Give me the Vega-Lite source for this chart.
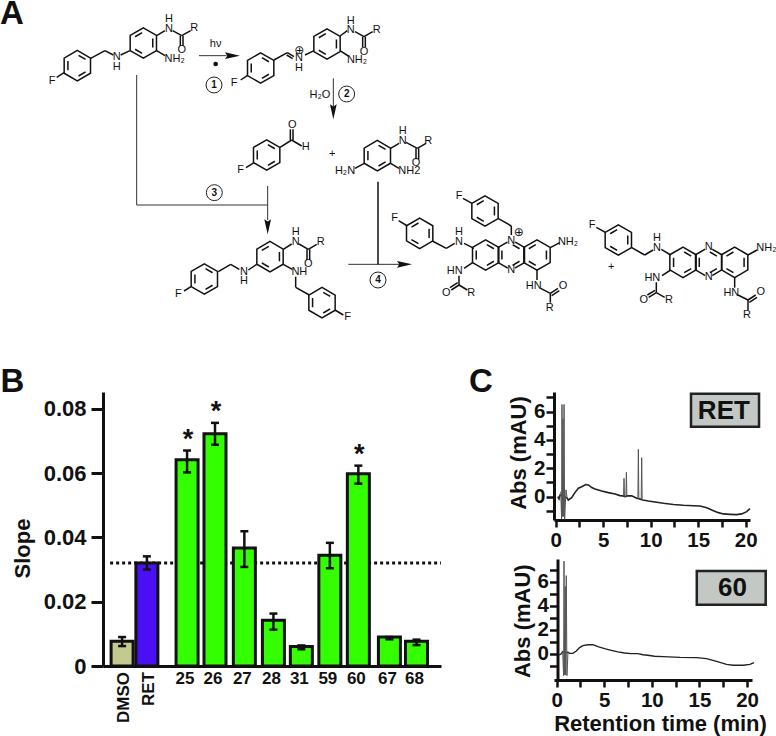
{
"$schema":"https://vega.github.io/schema/vega-lite/v6.json",
"autosize":{"type":"none"},
"padding":{"left":103,"top":0,"right":673,"bottom":736},
"background":"white",
"config":{"view":{"stroke":null},"text":{"font":"Liberation Sans"},"axis":{"labelFont":"Liberation Sans","titleFont":"Liberation Sans","labelFontWeight":"bold","titleFontWeight":"bold","labelColor":"#111","titleColor":"#111","domainColor":"#111","tickColor":"#111","grid":false,"labelOverlap":false,"labelFlush":false,"labelBound":false,"zindex":1}},
"bounds":"flush",
"spacing":52,
"vconcat":[
{"width":673,"height":340,
"encoding":{"x":{"field":"x","type":"quantitative","axis":null,"scale":{"domain":[309,2328],"nice":false,"zero":false,"padding":0}},"y":{"field":"y","type":"quantitative","axis":null,"scale":{"domain":[0,1020],"nice":false,"zero":false,"reverse":true}}},
"layer":[
{"data":{"name":"reactionLines","values":[{"x":597,"y":167,"x2":680,"y2":167},{"x":1000,"y":235,"x2":1000,"y2":320},{"x":410,"y":225,"x2":410,"y2":615},{"x":410,"y":615,"x2":803,"y2":615},{"x":803,"y":558,"x2":803,"y2":660},{"x":1045,"y":793,"x2":1200,"y2":793}]},
"mark":{"type":"rule","stroke":"#333","strokeWidth":1},"encoding":{"x2":{"field":"x2"},"y2":{"field":"y2"}}},
{"data":{"name":"bonds","values":[
{"x":1134,"y":545,"x2":1134,"y2":793},
{"x":272,"y":175,"x2":315,"y2":152},{"x":315,"y":152,"x2":340,"y2":165},{"x":362,"y":165,"x2":390,"y2":152},{"x":470,"y":107,"x2":495,"y2":92},{"x":518,"y":92,"x2":545,"y2":107},{"x":545,"y":107,"x2":572,"y2":92},{"x":541,"y":107,"x2":541,"y2":138},{"x":549,"y":107,"x2":549,"y2":138},{"x":470,"y":152,"x2":495,"y2":167},{"x":192,"y":218,"x2":170,"y2":232},
{"x":822,"y":180,"x2":862,"y2":158},{"x":862,"y":158,"x2":882,"y2":170},{"x":860,"y":165,"x2":878,"y2":176},{"x":915,"y":165,"x2":942,"y2":152},{"x":1020,"y":108,"x2":1042,"y2":92},{"x":1065,"y":95,"x2":1092,"y2":110},{"x":1092,"y":110,"x2":1118,"y2":95},{"x":1088,"y":110,"x2":1088,"y2":142},{"x":1096,"y":110,"x2":1096,"y2":142},{"x":1020,"y":152,"x2":1045,"y2":168},{"x":743,"y":226,"x2":722,"y2":240},
{"x":840,"y":442,"x2":875,"y2":420},{"x":871,"y":420,"x2":871,"y2":388},{"x":879,"y":420,"x2":879,"y2":388},{"x":875,"y":420,"x2":905,"y2":438},{"x":762,"y":488,"x2":738,"y2":503},
{"x":1093,"y":490,"x2":1065,"y2":505},{"x":1172,"y":445,"x2":1197,"y2":430},{"x":1218,"y":427,"x2":1252,"y2":445},{"x":1252,"y":445,"x2":1278,"y2":430},{"x":1248,"y":445,"x2":1248,"y2":478},{"x":1256,"y":445,"x2":1256,"y2":478},{"x":1172,"y":490,"x2":1197,"y2":505},
{"x":655,"y":815,"x2":692,"y2":793},{"x":692,"y":793,"x2":718,"y2":808},{"x":745,"y":810,"x2":770,"y2":793},{"x":850,"y":748,"x2":875,"y2":732},{"x":897,"y":732,"x2":925,"y2":748},{"x":925,"y":748,"x2":950,"y2":733},{"x":921,"y":748,"x2":921,"y2":780},{"x":929,"y":748,"x2":929,"y2":780},{"x":850,"y":793,"x2":877,"y2":808},{"x":887,"y":830,"x2":887,"y2":862},{"x":887,"y":862,"x2":928,"y2":885},{"x":1005,"y":930,"x2":1030,"y2":945},{"x":573,"y":860,"x2":552,"y2":873},
{"x":1416,"y":610,"x2":1389,"y2":595},{"x":1494,"y":655,"x2":1534,"y2":678},{"x":1534,"y":678,"x2":1534,"y2":705},{"x":1222,"y":678,"x2":1196,"y2":662},{"x":1297,"y":723,"x2":1339,"y2":745},{"x":1339,"y":745,"x2":1364,"y2":730},{"x":1392,"y":730,"x2":1422,"y2":745},{"x":1651,"y":743,"x2":1679,"y2":728},{"x":1419,"y":787,"x2":1392,"y2":805},{"x":1377,"y":827,"x2":1377,"y2":855},{"x":1377,"y":855,"x2":1354,"y2":870},{"x":1373,"y":848,"x2":1350,"y2":863},{"x":1377,"y":855,"x2":1402,"y2":870},{"x":1611,"y":810,"x2":1611,"y2":840},{"x":1622,"y":865,"x2":1651,"y2":880},{"x":1651,"y":880,"x2":1674,"y2":865},{"x":1655,"y":887,"x2":1678,"y2":872},{"x":1651,"y":880,"x2":1651,"y2":908},
{"x":1816,"y":697,"x2":1789,"y2":682},{"x":1894,"y":742,"x2":1934,"y2":765},{"x":1934,"y":765,"x2":1959,"y2":750},{"x":1984,"y":748,"x2":2012,"y2":765},{"x":2244,"y":765,"x2":2271,"y2":750},{"x":2012,"y":810,"x2":1986,"y2":827},{"x":1969,"y":847,"x2":1969,"y2":878},{"x":1969,"y":878,"x2":1946,"y2":892},{"x":1965,"y":871,"x2":1942,"y2":885},{"x":1969,"y":878,"x2":1994,"y2":892},{"x":2204,"y":832,"x2":2204,"y2":863},{"x":2214,"y":885,"x2":2244,"y2":900},{"x":2244,"y":900,"x2":2267,"y2":885},{"x":2248,"y":907,"x2":2271,"y2":892},{"x":2244,"y":900,"x2":2244,"y2":930}
]},"mark":{"type":"rule","stroke":"#111","strokeWidth":1.5},"encoding":{"x2":{"field":"x2"},"y2":{"field":"y2"}}},
{"data":{"name":"ringsA","values":[{"x":232,"y":197},{"x":782,"y":204},{"x":800,"y":465},{"x":1132,"y":467},{"x":613,"y":837},{"x":966,"y":908},{"x":1457,"y":765},{"x":1534,"y":765},{"x":2049,"y":787},{"x":2126,"y":787}]},
"mark":{"type":"point","shape":"M0,-1L0.866,-0.5L0.866,0.5L0,1L-0.866,0.5L-0.866,-0.5Z M-0.62,-0.3L-0.62,0.3 M0.08,-0.68L0.54,-0.41 M0.54,0.41L0.08,0.68","filled":false,"size":924,"stroke":"#111","strokeWidth":1.5,"opacity":1}},
{"data":{"name":"ringsB","values":[{"x":430,"y":129},{"x":981,"y":132},{"x":810,"y":770},{"x":1455,"y":633},{"x":1259,"y":700},{"x":1611,"y":765},{"x":1855,"y":720},{"x":2204,"y":787}]},
"mark":{"type":"point","shape":"M0,-1L0.866,-0.5L0.866,0.5L0,1L-0.866,0.5L-0.866,-0.5Z M0.62,-0.3L0.62,0.3 M-0.08,-0.68L-0.54,-0.41 M-0.54,0.41L-0.08,0.68","filled":false,"size":924,"stroke":"#111","strokeWidth":1.5,"opacity":1}},
{"data":{"name":"ringNitrogens","values":[{"x":2126,"y":742},{"x":2126,"y":832},{"x":1534,"y":722},{"x":1534,"y":810}]},
"mark":{"type":"point","shape":"circle","filled":true,"fill":"white","size":70,"opacity":1}},
{"data":{"name":"headsRight","values":[{"x":720,"y":167},{"x":1236,"y":793}]},
"mark":{"type":"point","shape":"M0,0L-2,-0.45L-1.7,0L-2,0.45Z","filled":true,"size":225,"fill":"#111","stroke":null,"opacity":1}},
{"data":{"name":"headsDown","values":[{"x":1000,"y":358},{"x":803,"y":703}]},
"mark":{"type":"point","shape":"M0,0L-0.45,-2L0,-1.7L0.45,-2Z","filled":true,"size":225,"fill":"#111","stroke":null,"opacity":1}},
{"data":{"name":"steps","values":[{"x":642,"y":255,"n":"1"},{"x":1040,"y":282,"n":"2"},{"x":643,"y":578,"n":"3"},{"x":1134,"y":840,"n":"4"}]},
"layer":[
{"mark":{"type":"point","shape":"circle","filled":true,"fill":"white","size":254,"stroke":"#222","strokeWidth":1,"opacity":1}},
{"mark":{"type":"text","fontSize":10,"fontWeight":"bold","fill":"#111"},"encoding":{"text":{"field":"n"}}}
]},
{"data":{"name":"radicalDot","values":[{"x":647,"y":192}]},"mark":{"type":"point","shape":"circle","filled":true,"fill":"#111","size":22,"opacity":1}},
{"data":{"name":"atomLabels","values":[
{"x":507,"y":57,"t":"H"},{"x":507,"y":87,"t":"N"},{"x":583,"y":85,"t":"R"},{"x":545,"y":150,"t":"O"},{"x":524,"y":178,"t":"NH₂"},{"x":350,"y":172,"t":"N"},{"x":350,"y":200,"t":"H"},{"x":156,"y":243,"t":"F"},
{"x":647,"y":132,"t":"hν"},
{"x":702,"y":248,"t":"F"},{"x":897,"y":175,"t":"N"},{"x":897,"y":205,"t":"H"},{"x":1052,"y":62,"t":"H"},{"x":1052,"y":90,"t":"N"},{"x":1130,"y":90,"t":"R"},{"x":1092,"y":157,"t":"O"},{"x":1071,"y":180,"t":"NH₂"},{"x":960,"y":284,"t":"H₂O"},
{"x":877,"y":375,"t":"O"},{"x":917,"y":442,"t":"H"},{"x":722,"y":510,"t":"F"},{"x":997,"y":462,"t":"+"},
{"x":1035,"y":513,"t":"H₂N"},{"x":1208,"y":393,"t":"H"},{"x":1208,"y":422,"t":"N"},{"x":1285,"y":422,"t":"R"},{"x":1248,"y":490,"t":"O"},{"x":1228,"y":513,"t":"NH2"},
{"x":887,"y":697,"t":"H"},{"x":887,"y":727,"t":"N"},{"x":962,"y":725,"t":"R"},{"x":925,"y":793,"t":"O"},{"x":732,"y":843,"t":"H"},{"x":732,"y":815,"t":"N"},{"x":898,"y":815,"t":"NH"},{"x":535,"y":882,"t":"F"},{"x":1043,"y":950,"t":"F"},
{"x":1377,"y":588,"t":"F"},{"x":1184,"y":655,"t":"F"},{"x":1377,"y":695,"t":"H"},{"x":1377,"y":725,"t":"N"},{"x":1534,"y":722,"t":"N"},{"x":1704,"y":725,"t":"NH₂"},{"x":1534,"y":810,"t":"N"},{"x":1364,"y":813,"t":"HN"},{"x":1339,"y":880,"t":"O"},{"x":1414,"y":880,"t":"R"},{"x":1601,"y":858,"t":"HN"},{"x":1689,"y":858,"t":"O"},{"x":1649,"y":925,"t":"R"},
{"x":1834,"y":800,"t":"+"},{"x":1776,"y":675,"t":"F"},{"x":1971,"y":715,"t":"H"},{"x":1971,"y":743,"t":"N"},{"x":2126,"y":742,"t":"N"},{"x":2126,"y":832,"t":"N"},{"x":2299,"y":743,"t":"NH₂"},{"x":1957,"y":833,"t":"HN"},{"x":1931,"y":900,"t":"O"},{"x":2007,"y":900,"t":"R"},{"x":2194,"y":878,"t":"HN"},{"x":2282,"y":877,"t":"O"},{"x":2241,"y":945,"t":"R"}
]},
"mark":{"type":"text","fontSize":11,"fill":"#111"},"encoding":{"text":{"field":"t"}}},
{"data":{"name":"charges","values":[{"x":898,"y":150},{"x":1556,"y":697}]},"mark":{"type":"text","text":"⊕","font":"DejaVu Sans","fontSize":12,"fill":"#111"}},
{"data":{"name":"panelLetters","values":[{"x":36,"y":72,"t":"A"},{"x":37,"y":1176,"t":"B"},{"x":1443,"y":1176,"t":"C"}]},
"mark":{"type":"text","fontSize":33,"fontWeight":"bold","fill":"#111","baseline":"alphabetic"},"encoding":{"text":{"field":"t"}}}
]},
{"bounds":"flush","spacing":113,"hconcat":[
{"width":338,"height":274,
"data":{"name":"slopes","values":[
{"name":"DMSO","group":"control","slot":0.67,"slope":0.0077,"lo":0.0062,"hi":0.009},
{"name":"RET","group":"reference","slot":1.54,"slope":0.032,"lo":0.03,"hi":0.0341},
{"name":"25","group":"compound","slot":2.95,"slope":0.0641,"lo":0.0602,"hi":0.067,"star":"*"},
{"name":"26","group":"compound","slot":3.93,"slope":0.0722,"lo":0.0688,"hi":0.0756,"star":"*"},
{"name":"27","group":"compound","slot":4.96,"slope":0.0367,"lo":0.0308,"hi":0.0419},
{"name":"28","group":"compound","slot":5.98,"slope":0.0142,"lo":0.0113,"hi":0.0163},
{"name":"31","group":"compound","slot":6.96,"slope":0.0061,"lo":0.0052,"hi":0.0064},
{"name":"59","group":"compound","slot":7.96,"slope":0.0344,"lo":0.0304,"hi":0.0383},
{"name":"60","group":"compound","slot":8.96,"slope":0.0598,"lo":0.0567,"hi":0.0623,"star":"*"},
{"name":"67","group":"compound","slot":10.05,"slope":0.009,"lo":0.0083,"hi":0.009},
{"name":"68","group":"compound","slot":11.0,"slope":0.0077,"lo":0.0065,"hi":0.0082}
]},
"encoding":{"x":{"field":"slot","type":"quantitative","scale":{"domain":[0,11.86],"nice":false,"zero":false,"padding":0},"axis":{"title":null,"labels":false,"ticks":false,"domainWidth":3}}},
"layer":[
{"data":{"values":[{"level":0.032,"from":0.25,"to":11.86}]},"mark":{"type":"rule","strokeDash":[3,3],"strokeWidth":3,"color":"#111"},"encoding":{"x":{"field":"from","type":"quantitative"},"x2":{"field":"to"},"y":{"field":"level","type":"quantitative"}}},
{"mark":{"type":"bar","orient":"vertical","size":22,"stroke":"#111","strokeWidth":3},
"encoding":{"y":{"field":"slope","type":"quantitative","stack":null,"scale":{"domain":[0,0.0852],"nice":false,"zero":false},"axis":{"title":"Slope","values":[0,0.01,0.02,0.03,0.04,0.05,0.06,0.07,0.08],"labelExpr":"round(datum.value*100)%2==0 ? (datum.value==0 ? '0' : format(datum.value,'.2f')) : ''","labelFontSize":22,"titleFontSize":22,"tickSize":12,"tickWidth":3,"domainWidth":3,"labelPadding":5,"titleBaseline":"alphabetic","titleX":-74,"titleY":156,"titleAnchor":"middle"}},
"fill":{"field":"group","type":"nominal","legend":null,"scale":{"domain":["control","reference","compound"],"range":["#c4c98f","#4a10f5","#33ff00"]}}}},
{"mark":{"type":"rule","strokeWidth":2.5,"color":"#111"},"encoding":{"y":{"field":"lo","type":"quantitative"},"y2":{"field":"hi"}}},
{"mark":{"type":"tick","orient":"horizontal","size":8,"thickness":2.5,"color":"#111","opacity":1},"encoding":{"y":{"field":"lo","type":"quantitative"}}},
{"mark":{"type":"tick","orient":"horizontal","size":8,"thickness":2.5,"color":"#111","opacity":1},"encoding":{"y":{"field":"hi","type":"quantitative"}}},
{"transform":[{"filter":"datum.star"}],"mark":{"type":"text","fontSize":27,"fontWeight":"bold","fill":"#111","baseline":"alphabetic","dy":-3,"dx":1},"encoding":{"y":{"field":"hi","type":"quantitative"},"text":{"field":"star"}}},
{"transform":[{"filter":"datum.group=='compound'"}],"mark":{"type":"text","fontSize":17,"fontWeight":"bold","fill":"#111","baseline":"alphabetic","dy":18,"dx":-2},"encoding":{"y":{"datum":0},"text":{"field":"name"}}},
{"transform":[{"filter":"datum.group!='compound'"}],"mark":{"type":"text","fontSize":17,"fontWeight":"bold","fill":"#111","angle":270,"align":"right","baseline":"middle","dy":2,"dx":-6},"encoding":{"y":{"datum":0},"text":{"field":"name"}}}
]},
{"bounds":"flush","spacing":39,"vconcat":[
{"width":196,"height":128,
"encoding":{"x":{"field":"t","type":"quantitative","scale":{"domain":[-0.18,20.45],"nice":false,"zero":false,"padding":0},"axis":{"title":null,"values":[0,2.5,5,7.5,10,12.5,15,17.5,20],"labelExpr":"datum.value%5==0 ? format(datum.value,'d') : ''","labelFontSize":20.5,"tickSize":7,"tickWidth":2.5,"domainWidth":3,"labelPadding":3}},
"y":{"field":"abs","type":"quantitative","scale":{"domain":[-1.65,7.38],"nice":false,"zero":false},"axis":{"title":"Abs (mAU)","values":[-1,0,1,2,3,4,5,6,7],"labelExpr":"datum.value>=0 && datum.value%2==0 ? format(datum.value,'d') : ''","labelFontSize":20.5,"titleFontSize":22,"tickSize":8,"tickWidth":2.5,"domainWidth":3,"labelPadding":1,"titleBaseline":"alphabetic","titleX":-29,"titleY":60.5,"titleAnchor":"middle"}}},
"layer":[
{"data":{"name":"traceRET","values":[
{"t":0.21,"abs":0},{"t":0.35,"abs":-0.16},{"t":0.46,"abs":0.12},{"t":0.6,"abs":0.1},{"t":0.9,"abs":0},{"t":1.2,"abs":-0.1},{"t":1.33,"abs":-0.24},{"t":1.68,"abs":-0.07},{"t":2.04,"abs":0.3},{"t":2.39,"abs":0.59},{"t":2.74,"abs":0.7},{"t":3.16,"abs":0.85},{"t":3.44,"abs":0.82},{"t":3.79,"abs":0.64},{"t":4.14,"abs":0.54},{"t":4.84,"abs":0.4},{"t":5.54,"abs":0.28},{"t":6.25,"abs":0.19},{"t":6.77,"abs":0.07},{"t":7.09,"abs":0.05},{"t":7.3,"abs":0},{"t":7.54,"abs":0.05},{"t":8,"abs":0.05},{"t":8.53,"abs":-0.12},{"t":8.84,"abs":-0.16},{"t":9.16,"abs":-0.24},{"t":9.75,"abs":-0.31},{"t":10.63,"abs":-0.4},{"t":11.33,"abs":-0.47},{"t":12.39,"abs":-0.56},{"t":13.44,"abs":-0.61},{"t":14.49,"abs":-0.64},{"t":15.19,"abs":-0.66},{"t":15.9,"abs":-0.78},{"t":16.6,"abs":-0.99},{"t":17.12,"abs":-1.13},{"t":17.65,"abs":-1.22},{"t":18.35,"abs":-1.25},{"t":19.05,"abs":-1.27},{"t":19.58,"abs":-1.22},{"t":20.1,"abs":-1.06},{"t":20.45,"abs":-0.85}
]},
"mark":{"type":"line","stroke":"#222","strokeWidth":1.6}},
{"data":{"name":"peaksRET","values":[
{"peak":"a","t":0.53,"abs":0.35},{"peak":"a","t":0.62,"abs":-1.6},{"peak":"a","t":0.66,"abs":6.5},{"peak":"a","t":0.7,"abs":-1.4},{"peak":"a","t":0.76,"abs":5.5},{"peak":"a","t":0.82,"abs":-1.4},{"peak":"a","t":0.88,"abs":6.5},{"peak":"a","t":0.94,"abs":-1.6},{"peak":"a","t":1.08,"abs":0.47},{"peak":"a","t":1.2,"abs":-0.1},
{"peak":"b","t":7.14,"abs":0.05},{"peak":"b","t":7.19,"abs":1.29},{"peak":"b","t":7.24,"abs":0},
{"peak":"c","t":7.39,"abs":0},{"peak":"c","t":7.44,"abs":1.72},{"peak":"c","t":7.49,"abs":0.05},
{"peak":"d","t":8.65,"abs":-0.12},{"peak":"d","t":8.7,"abs":3.34},{"peak":"d","t":8.75,"abs":-0.16},
{"peak":"e","t":9.0,"abs":-0.16},{"peak":"e","t":9.05,"abs":2.75},{"peak":"e","t":9.1,"abs":-0.24}
]},
"mark":{"type":"line","stroke":"#555","strokeWidth":1},
"encoding":{"detail":{"field":"peak"}}},
{"data":{"name":"tagRET","values":[{"t":14.24,"t2":21.4,"abs":4.92,"abs2":7.25}]},
"mark":{"type":"rect","fill":"#c3c8c5","stroke":"#222","strokeWidth":2.5},"encoding":{"x2":{"field":"t2"},"y2":{"field":"abs2"}}},
{"data":{"name":"tagRETLabel","values":[{"tag":"RET","t":17.7,"abs":6.07}]},
"mark":{"type":"text","fontSize":26,"fontWeight":"bold","fill":"#111"},"encoding":{"text":{"field":"tag"}}}
]},
{"width":198,"height":121,
"encoding":{"x":{"field":"t","type":"quantitative","scale":{"domain":[-0.28,20.52],"nice":false,"zero":false,"padding":0},"axis":{"title":"Retention time  (min)","values":[0,2.5,5,7.5,10,12.5,15,17.5,20],"labelExpr":"datum.value%5==0 ? format(datum.value,'d') : ''","labelFontSize":20.5,"titleFontSize":22,"tickSize":7,"tickWidth":2.5,"domainWidth":3,"labelPadding":3,"titleBaseline":"alphabetic","titleX":106,"titleY":50,"titleAnchor":"middle"}},
"y":{"field":"abs","type":"quantitative","scale":{"domain":[-2.16,7.88],"nice":false,"zero":false},"axis":{"title":"Abs (mAU)","offset":-3.5,"values":[-1,0,1,2,3,4,5,6,7],"labelExpr":"datum.value>=0 && datum.value%2==0 ? format(datum.value,'d') : ''","labelFontSize":20.5,"titleFontSize":22,"tickSize":8,"tickWidth":2.5,"domainWidth":3,"labelPadding":1,"titleBaseline":"alphabetic","titleX":-28,"titleY":61.7,"titleAnchor":"middle"}}},
"layer":[
{"data":{"name":"trace60","values":[
{"t":0.14,"abs":-0.08},{"t":0.42,"abs":-0.03},{"t":0.63,"abs":0.19},{"t":0.9,"abs":0.1},{"t":1.19,"abs":0.14},{"t":1.36,"abs":0.05},{"t":1.71,"abs":0.05},{"t":2.06,"abs":0.25},{"t":2.41,"abs":0.53},{"t":2.76,"abs":0.69},{"t":3.29,"abs":0.77},{"t":3.81,"abs":0.77},{"t":4.34,"abs":0.61},{"t":5.03,"abs":0.44},{"t":5.73,"abs":0.3},{"t":6.43,"abs":0.17},{"t":7.13,"abs":0.08},{"t":7.83,"abs":0.03},{"t":8.53,"abs":0.03},{"t":9.06,"abs":-0.06},{"t":9.58,"abs":-0.11},{"t":10.28,"abs":-0.19},{"t":11.19,"abs":-0.22},{"t":12.94,"abs":-0.28},{"t":14.69,"abs":-0.3},{"t":15.74,"abs":-0.39},{"t":16.8,"abs":-0.61},{"t":17.85,"abs":-0.86},{"t":18.55,"abs":-0.94},{"t":19.6,"abs":-0.94},{"t":20.3,"abs":-0.86},{"t":20.74,"abs":-0.72}
]},
"mark":{"type":"line","stroke":"#222","strokeWidth":1.4}},
{"data":{"name":"peaks60","values":[
{"t":0.63,"abs":0.19},{"t":0.73,"abs":-1.8},{"t":0.77,"abs":7.7},{"t":0.84,"abs":-1.74},{"t":0.91,"abs":5.6},{"t":0.94,"abs":-1.75},{"t":1.01,"abs":6.5},{"t":1.08,"abs":-1.8},{"t":1.19,"abs":0.14}
]},
"mark":{"type":"line","stroke":"#555","strokeWidth":1}},
{"data":{"name":"tag60","values":[{"t":14.72,"t2":21.96,"abs":4.09,"abs2":6.89}]},
"mark":{"type":"rect","fill":"#c3c8c5","stroke":"#222","strokeWidth":2.5},"encoding":{"x2":{"field":"t2"},"y2":{"field":"abs2"}}},
{"data":{"name":"tag60Label","values":[{"tag":"60","t":18.47,"abs":5.45}]},
"mark":{"type":"text","fontSize":26,"fontWeight":"bold","fill":"#111"},"encoding":{"text":{"field":"tag"}}}
]}
]}
]}
]}
